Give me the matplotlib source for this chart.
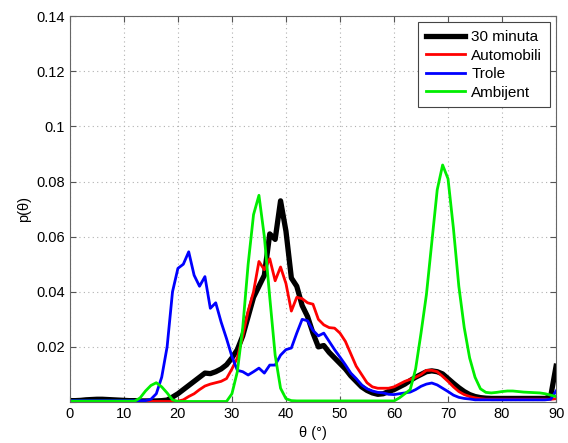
import numpy as np
import matplotlib.pyplot as plt

plt.rcParams['font.family'] = ['Liberation Sans', 'DejaVu Sans']

theta = np.arange(0, 91)

p_30min = [0.0005, 0.0005, 0.0006, 0.0008, 0.0009, 0.001, 0.001, 0.0009, 0.0008, 0.0007,
           0.0006, 0.0005, 0.0005, 0.0004, 0.0004, 0.0004, 0.0004, 0.0005, 0.0007, 0.0018,
           0.003, 0.0045, 0.006, 0.0075, 0.009, 0.0105, 0.0103, 0.011, 0.012, 0.0135,
           0.016, 0.019, 0.024, 0.031, 0.038, 0.042, 0.046, 0.061, 0.059, 0.073,
           0.062, 0.045, 0.042, 0.035, 0.031, 0.025, 0.020, 0.0205, 0.018, 0.016,
           0.014, 0.012, 0.0095, 0.0075, 0.0055, 0.0042, 0.0033, 0.0028, 0.003, 0.0038,
           0.0045, 0.0055, 0.0065, 0.0078, 0.009, 0.010, 0.011, 0.0113, 0.011, 0.0102,
           0.0085, 0.0068, 0.0052, 0.0038, 0.0027, 0.002, 0.0016, 0.0014, 0.0013, 0.0013,
           0.0013, 0.0013, 0.0013, 0.0013, 0.0013, 0.0013, 0.0013, 0.0013, 0.0013, 0.002,
           0.013]

p_auto = [0.0002] * 20 + [
           0.0003, 0.0008, 0.002, 0.003, 0.0045, 0.0058, 0.0065, 0.007, 0.0075, 0.0085,
           0.012, 0.016, 0.024, 0.033, 0.040, 0.051, 0.048, 0.052, 0.044, 0.049,
           0.043, 0.033, 0.038, 0.0375, 0.036, 0.0355, 0.030, 0.028, 0.027, 0.0268,
           0.025, 0.022, 0.0175, 0.013, 0.010, 0.007, 0.0055, 0.005, 0.005, 0.005,
           0.0055, 0.0065, 0.0075, 0.0082, 0.009, 0.010, 0.0115, 0.0115, 0.011, 0.0093,
           0.0075, 0.0055, 0.0038, 0.0027, 0.002, 0.0015, 0.0012, 0.001, 0.001, 0.001,
           0.001, 0.001, 0.001, 0.001, 0.001, 0.001, 0.001, 0.001, 0.001, 0.001,
           0.0012]

p_trole = [0.0005] * 15 + [
           0.001, 0.003, 0.009, 0.020, 0.040,
           0.0485, 0.050, 0.0545, 0.046, 0.042, 0.0455, 0.034, 0.036, 0.029, 0.023,
           0.0165, 0.0115, 0.011, 0.0098, 0.011, 0.0123, 0.0105, 0.0134, 0.0134, 0.017,
           0.019, 0.0196, 0.025, 0.030, 0.0295, 0.026, 0.024, 0.025, 0.022, 0.019,
           0.0163, 0.0135, 0.0105, 0.0085, 0.0062, 0.0048, 0.004, 0.0035, 0.0033, 0.0028,
           0.0027, 0.003, 0.0033, 0.0036, 0.0045, 0.0057, 0.0065, 0.0069, 0.0062, 0.005,
           0.0038, 0.0025, 0.0017, 0.0013, 0.0011, 0.0008, 0.0008, 0.0008, 0.0008, 0.0008,
           0.0008, 0.0008, 0.0008, 0.0008, 0.0008, 0.0008, 0.0008, 0.0008, 0.0008, 0.001,
           0.004]

p_ambijent = [0.0003] * 13 + [
           0.0015, 0.004, 0.006, 0.007, 0.0055, 0.0033, 0.0008,
           0.0002, 0.0002, 0.0002, 0.0002, 0.0002, 0.0002, 0.0002, 0.0002, 0.0002, 0.0002,
           0.003, 0.011, 0.027, 0.050, 0.068, 0.075, 0.060, 0.038, 0.017, 0.005,
           0.0012, 0.0005, 0.0004, 0.0004, 0.0004, 0.0004, 0.0004, 0.0004, 0.0004, 0.0004,
           0.0004, 0.0004, 0.0004, 0.0004, 0.0004, 0.0004, 0.0004, 0.0004, 0.0004, 0.0004,
           0.0004, 0.0015, 0.003, 0.0045, 0.012, 0.025, 0.039, 0.058, 0.077, 0.086,
           0.081, 0.063, 0.042, 0.027, 0.016, 0.009, 0.0048, 0.0035, 0.0033, 0.0035,
           0.0038, 0.004, 0.004, 0.0038, 0.0036, 0.0035, 0.0034, 0.0033, 0.003, 0.0025,
           0.002]

fig = plt.figure(figsize=(5.68, 4.43), dpi=100)
ax = fig.add_axes([0.123, 0.0925, 0.856, 0.871])

ax.plot(theta, p_30min, color='k', lw=3.8, label='30 minuta')
ax.plot(theta, p_auto, color='#ff0000', lw=2, label='Automobili')
ax.plot(theta, p_trole, color='#0000ff', lw=2, label='Trole')
ax.plot(theta, p_ambijent, color='#00ee00', lw=2, label='Ambijent')

ax.set_xlim(0, 90)
ax.set_ylim(0, 0.14)
ax.set_xticks(range(0, 91, 10))
ax.set_yticks([0, 0.02, 0.04, 0.06, 0.08, 0.1, 0.12, 0.14])
ax.set_yticklabels(['', '0.02', '0.04', '0.06', '0.08', '0.1', '0.12', '0.14'])
ax.tick_params(direction='in', top=True, right=True, labelsize=10.5, length=4, color='#555555')
ax.grid(True, linestyle=(0, (1, 3)), color='#b0b0b0', lw=0.8)
for s in ax.spines.values():
    s.set_color('#666666')

ax.set_xlabel('θ (°)', fontsize=10.5, labelpad=4)
ax.set_ylabel('p(θ)', fontsize=10.5, labelpad=4)

leg = ax.legend(loc='upper right', fontsize=11, handlelength=2.6, fancybox=False,
                framealpha=1, edgecolor='#444444', borderaxespad=0.4,
                labelspacing=0.3, handletextpad=0.4, borderpad=0.5)
leg.get_frame().set_linewidth(0.8)

fig.savefig('out.png', dpi=100)
